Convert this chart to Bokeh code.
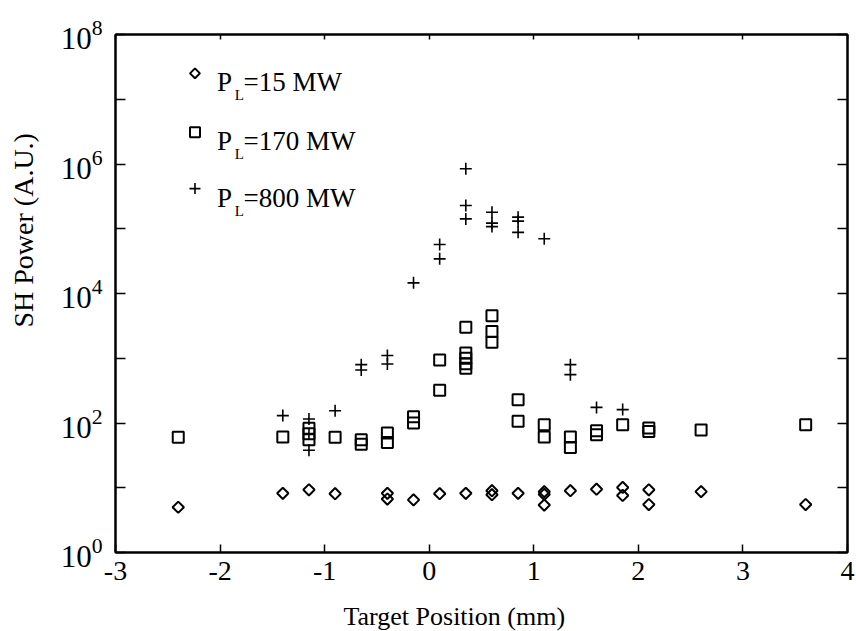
from math import pi
from bokeh.plotting import figure
from bokeh.models import (LinearAxis, LogAxis, FixedTicker, Label, Range1d,
                          CustomJSTickFormatter, Title)
from bokeh.embed import file_html
from bokeh.resources import INLINE

# ---------------- data (target position in mm, SH power in A.U.) ----------------
x_15mw = [-2.4, -1.4, -1.15, -0.9, -0.4, -0.4, -0.15, 0.1, 0.35, 0.6, 0.6, 0.85,
          1.1, 1.1, 1.1, 1.35, 1.6, 1.85, 1.85, 2.1, 2.1, 2.6, 3.6]
y_15mw = [5.0, 8.2, 9.3, 8.1, 8.2, 6.7, 6.5, 8.1, 8.2, 9.0, 7.8, 8.2,
          8.7, 7.9, 5.4, 9.0, 9.5, 10.1, 7.6, 9.3, 5.5, 8.7, 5.5]

x_170mw = [-2.4, -1.4, -1.15, -1.15, -1.15, -0.9, -0.65, -0.65, -0.4, -0.4,
           -0.15, -0.15, 0.1, 0.1, 0.35, 0.35, 0.35, 0.35, 0.35, 0.6, 0.6, 0.6,
           0.85, 0.85, 1.1, 1.1, 1.35, 1.35, 1.6, 1.6, 1.85, 2.1, 2.1, 2.6, 3.6]
y_170mw = [60, 61, 83, 68, 55, 60, 55, 47, 70, 50,
           125, 100, 940, 320, 3000, 1200, 1000, 820, 700, 4550, 2600, 1760,
           229, 106, 94, 61, 61, 42, 76, 66, 94, 84, 74, 78, 94]

x_800mw = [-1.4, -1.15, -1.15, -1.15, -0.9, -0.65, -0.65, -0.4, -0.4, -0.15,
           0.1, 0.1, 0.35, 0.35, 0.35, 0.6, 0.6, 0.6, 0.85, 0.85, 0.85, 1.1,
           1.35, 1.35, 1.6, 1.85]
y_800mw = [130, 115, 68, 38, 155, 796, 660, 1100, 815, 14600,
           57000, 34300, 843000, 228000, 142000, 180000, 122000, 108000,
           151000, 131000, 88000, 70000, 796, 558, 174, 161]

series_labels = ["=15 MW", "=170 MW", "=800 MW"]
x_ticks = [-3, -2, -1, 0, 1, 2, 3, 4]
x_tick_labels = ["-3", "-2", "-1", "0", "1", "2", "3", "4"]
y_ticks = [10 ** k for k in range(9)]

FONT = "Liberation Serif"

p = figure(frame_width=732, frame_height=518,
           x_range=Range1d(-3, 4), y_range=Range1d(1, 1e8),
           y_axis_type="log", output_backend="svg", toolbar_location=None,
           min_border_left=115, min_border_top=34, min_border_right=8,
           min_border_bottom=10)
p.background_fill_color = "white"
p.border_fill_color = "white"
p.outline_line_color = "black"
p.outline_line_width = 2
p.xgrid.visible = False
p.ygrid.visible = False

# bottom axis
xa = p.xaxis[0]
xa.ticker = FixedTicker(ticks=x_ticks)
xa.major_label_overrides = dict(zip(x_ticks, x_tick_labels))
xa.major_tick_in = 8
xa.major_tick_out = 0
xa.minor_tick_line_color = None
xa.axis_line_width = 2
xa.major_tick_line_width = 1.5
xa.major_label_text_font = FONT
xa.major_label_text_font_size = "28px"
xa.major_label_text_color = "black"
xa.major_label_standoff = 9

# left axis
ya = p.yaxis[0]
ya.ticker = FixedTicker(ticks=y_ticks, minor_ticks=[])
ya.major_tick_in = 10
ya.major_tick_out = 0
ya.minor_tick_line_color = None
ya.axis_line_width = 2
ya.major_tick_line_width = 1.5
ya.major_label_text_font = FONT
ya.major_label_text_font_size = "31px"
ya.major_label_text_color = "black"
ya.major_label_standoff = 13
ya.major_label_overrides = {10 ** k: "" for k in range(1, 9, 2)}

blank = CustomJSTickFormatter(code="return '';")

top = LinearAxis(ticker=FixedTicker(ticks=x_ticks), formatter=blank,
                 major_tick_in=5, major_tick_out=0, minor_tick_line_color=None,
                 axis_line_width=2, major_tick_line_width=1.5,
                 major_label_standoff=0)
p.add_layout(top, "above")
right = LogAxis(ticker=FixedTicker(ticks=y_ticks, minor_ticks=[]), formatter=blank,
                major_tick_in=10, major_tick_out=0, minor_tick_line_color=None,
                axis_line_width=2, major_tick_line_width=1.5,
                major_label_standoff=0)
p.add_layout(right, "right")

# invisible spacer axes (one unseen tick each) that push the axis titles outward
def spacer(cls, tick, gap):
    return cls(ticker=FixedTicker(ticks=[tick], minor_ticks=[]), formatter=blank,
               major_tick_in=0, major_tick_out=gap, major_label_standoff=0,
               major_label_text_font_size="1px",
               axis_line_color=None, major_tick_line_color=None,
               minor_tick_line_color=None)

p.add_layout(spacer(LogAxis, 10, 10), "left")
p.add_layout(spacer(LinearAxis, 0, 19), "below")

# axis titles (as titles, so they can sit off-centre like the original)
p.add_layout(Title(text="SH Power (A.U.)", align="left", offset=225,
                   vertical_align="top", standoff=14,
                   text_font=FONT, text_font_size="28px",
                   text_font_style="normal", text_color="black"), "left")
p.add_layout(Title(text="Target Position (mm)", align="left", offset=228,
                   vertical_align="top", standoff=0,
                   text_font=FONT, text_font_size="26px",
                   text_font_style="normal", text_color="black"), "below")

# data marks
p.scatter(x_15mw, y_15mw, marker="square", angle=pi / 4, size=8,
          fill_color=None, line_color="black", line_width=2)
p.scatter(x_170mw, y_170mw, marker="square", size=11,
          fill_color=None, line_color="black", line_width=2)
p.scatter(x_800mw, y_800mw, marker="cross", size=12,
          line_color="black", line_width=1.6)

# legend (drawn by hand for the subscript)
LEG_KEY_X = -2.24
LEG_ROW_LOG = [7.40, 6.49, 5.62]
key_styles = [dict(marker="square", angle=pi / 4, size=7, fill_color=None, line_width=2),
              dict(marker="square", size=10, fill_color=None, line_width=2),
              dict(marker="cross", size=11, line_width=1.6)]
for lg, st, lab in zip(LEG_ROW_LOG, key_styles, series_labels):
    p.scatter([LEG_KEY_X], [10 ** lg], line_color="black", **st)
    p.add_layout(Label(x=-2.03, y=10 ** (lg - 0.14), text="P", text_font=FONT,
                       text_font_size="27px", text_color="black",
                       text_align="left", text_baseline="alphabetic"))
    p.add_layout(Label(x=-1.86, y=10 ** (lg - 0.34), text="L", text_font=FONT,
                       text_font_size="15px", text_color="black",
                       text_align="left", text_baseline="alphabetic"))
    p.add_layout(Label(x=-1.775, y=10 ** (lg - 0.14), text=lab, text_font=FONT,
                       text_font_size="27px", text_color="black",
                       text_align="left", text_baseline="alphabetic"))

open("out.html", "w").write(file_html(p, INLINE))
